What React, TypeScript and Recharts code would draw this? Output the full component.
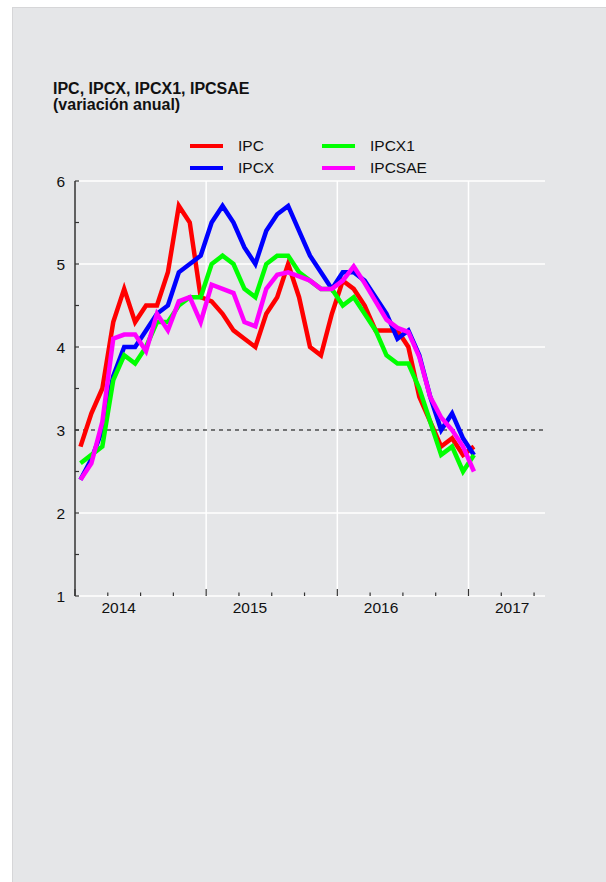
import React from 'react';
import { LineChart, Line, XAxis, YAxis, ReferenceLine } from 'recharts';

// monthly, Jan 2014 .. Jan 2017 (annual % change)
const IPC = [
  2.8, 3.2, 3.5, 4.3, 4.7, 4.3, 4.5, 4.5, 4.9, 5.7, 5.5, 4.6,
  4.55, 4.4, 4.2, 4.1, 4.0, 4.4, 4.6, 5.0, 4.6, 4.0, 3.9, 4.4,
  4.8, 4.7, 4.5, 4.2, 4.2, 4.2, 4.0, 3.4, 3.1, 2.8, 2.9, 2.7,
  2.8,
];
const IPCX = [
  2.4, 2.65, 3.0, 3.65, 4.0, 4.0, 4.2, 4.4, 4.5, 4.9, 5.0, 5.1,
  5.5, 5.7, 5.5, 5.2, 5.0, 5.4, 5.6, 5.7, 5.4, 5.1, 4.9, 4.7,
  4.9, 4.9, 4.8, 4.6, 4.4, 4.1, 4.2, 3.9, 3.4, 3.0, 3.2, 2.9,
  2.7,
];
const IPCX1 = [
  2.6, 2.7, 2.8, 3.6, 3.9, 3.8, 4.0, 4.3, 4.3, 4.5, 4.6, 4.6,
  5.0, 5.1, 5.0, 4.7, 4.6, 5.0, 5.1, 5.1, 4.9, 4.8, 4.7, 4.7,
  4.5, 4.6, 4.4, 4.2, 3.9, 3.8, 3.8, 3.5, 3.1, 2.7, 2.8, 2.5,
  2.7,
];
const IPCSAE = [
  2.4, 2.6, 3.1, 4.1, 4.15, 4.15, 3.95, 4.4, 4.2, 4.55, 4.6, 4.3,
  4.75, 4.7, 4.65, 4.3, 4.25, 4.7, 4.87, 4.9, 4.85, 4.8, 4.7, 4.7,
  4.8, 4.97, 4.77, 4.55, 4.33, 4.23, 4.18, 3.88, 3.4, 3.15, 3.0, 2.8,
  2.5,
];

const YEARS = ['2014', '2015', '2016', '2017'];
const Y_TICKS = [1, 1.5, 2, 2.5, 3, 3.5, 4, 4.5, 5, 5.5, 6];
const GRID_Y = [1, 2, 4, 5, 6];
const GRID_X = [12, 24, 36];

const SERIES = [
  { key: 'ipc', name: 'IPC', color: '#ff0000', values: IPC },
  { key: 'ipcx', name: 'IPCX', color: '#0000ff', values: IPCX },
  { key: 'ipcx1', name: 'IPCX1', color: '#00ff00', values: IPCX1 },
  { key: 'ipcsae', name: 'IPCSAE', color: '#ff00ff', values: IPCSAE },
];

const data = IPC.map((_, i) => {
  const row: any = { t: i + 0.5 };
  SERIES.forEach(s => (row[s.key] = s.values[i]));
  return row;
});

const FONT = '"Liberation Sans", Arial, sans-serif';
const BG = '#e5e6e8';
const INK = '#333';

const monthTicks = Array.from({ length: 44 }, (_, k) => k);

function XTick(props: any) {
  const { x, y, payload } = props;
  const v = payload.value;
  const len = v % 12 === 0 ? 7 : 3.5;
  return (
    <g>
      {v % 3 === 0 && <line x1={x} x2={x} y1={y} y2={y - len} stroke={INK} strokeWidth={1.2} />}
      {v % 12 === 4 && (
        <text x={x} y={y + 17} textAnchor="middle" fontSize={15.5} fontFamily={FONT} fill="#111">
          {YEARS[Math.floor(v / 12)]}
        </text>
      )}
    </g>
  );
}

function YTick(props: any) {
  const { x, y, payload } = props;
  const v = payload.value;
  return (
    <g>
      <line x1={x} x2={x + 4} y1={y} y2={y} stroke={INK} strokeWidth={1.2} />
      {Number.isInteger(v) && (
        <text x={x - 10} y={y} dy="0.36em" textAnchor="end" fontSize={15.5} fontFamily={FONT} fill="#111">
          {v}
        </text>
      )}
    </g>
  );
}

export default function App() {
  return (
    <div style={{ position: 'absolute', left: 0, top: 0, width: 606, height: 882, background: '#fff', overflow: 'hidden' }}>
      <div
        style={{
          position: 'absolute',
          left: 12,
          top: 7,
          width: 594,
          height: 875,
          background: BG,
          borderLeft: '1px solid #d6d6d8',
          borderTop: '1px solid #d6d6d8',
          boxSizing: 'border-box',
        }}
      />
      <div
        style={{
          position: 'absolute',
          left: 53,
          top: 81,
          fontFamily: FONT,
          fontWeight: 'bold',
          fontSize: 16,
          lineHeight: '16px',
          color: '#111',
        }}
      >
        <div>IPC, IPCX, IPCX1, IPCSAE</div>
        <div>(variación anual)</div>
      </div>

      <div
        style={{
          position: 'absolute',
          left: 190,
          top: 135,
          display: 'grid',
          gridTemplateColumns: '132px 132px',
          gridAutoFlow: 'column',
          gridTemplateRows: '22px 22px',
          fontFamily: FONT,
          fontSize: 15.5,
          color: '#111',
        }}
      >
        {SERIES.map(s => (
          <div key={s.key} style={{ display: 'flex', alignItems: 'center' }}>
            <span style={{ display: 'inline-block', width: 33, height: 4, background: s.color, marginRight: 15 }} />
            <span>{s.name}</span>
          </div>
        ))}
      </div>

      <div style={{ position: 'absolute', left: 0, top: 0 }}>
        <LineChart width={606} height={650} data={data} margin={{ top: 181, right: 61, bottom: 34, left: 45 }}>
          {GRID_Y.map(v => (
            <ReferenceLine key={'gy' + v} y={v} stroke="#fff" strokeWidth={1.5} />
          ))}
          {GRID_X.map(v => (
            <ReferenceLine key={'gx' + v} x={v} stroke="#fff" strokeWidth={1.5} />
          ))}
          <ReferenceLine y={3} stroke="#000" strokeWidth={1} strokeDasharray="4 4" />
          <XAxis
            dataKey="t"
            type="number"
            domain={[0, 43]}
            ticks={monthTicks}
            interval={0}
            height={20}
            axisLine={false}
            tickLine={false}
            tickSize={0}
            tickMargin={0}
            tick={<XTick />}
          />
          <YAxis
            type="number"
            domain={[1, 6]}
            ticks={Y_TICKS}
            interval={0}
            width={30}
            axisLine={{ stroke: INK, strokeWidth: 1.5 }}
            tickLine={false}
            tickSize={0}
            tickMargin={0}
            tick={<YTick />}
          />
          {SERIES.map(s => (
            <Line
              key={s.key}
              type="linear"
              dataKey={s.key}
              name={s.name}
              stroke={s.color}
              strokeWidth={4.5}
              dot={false}
              activeDot={false}
              isAnimationActive={false}
            />
          ))}
        </LineChart>
      </div>
    </div>
  );
}
